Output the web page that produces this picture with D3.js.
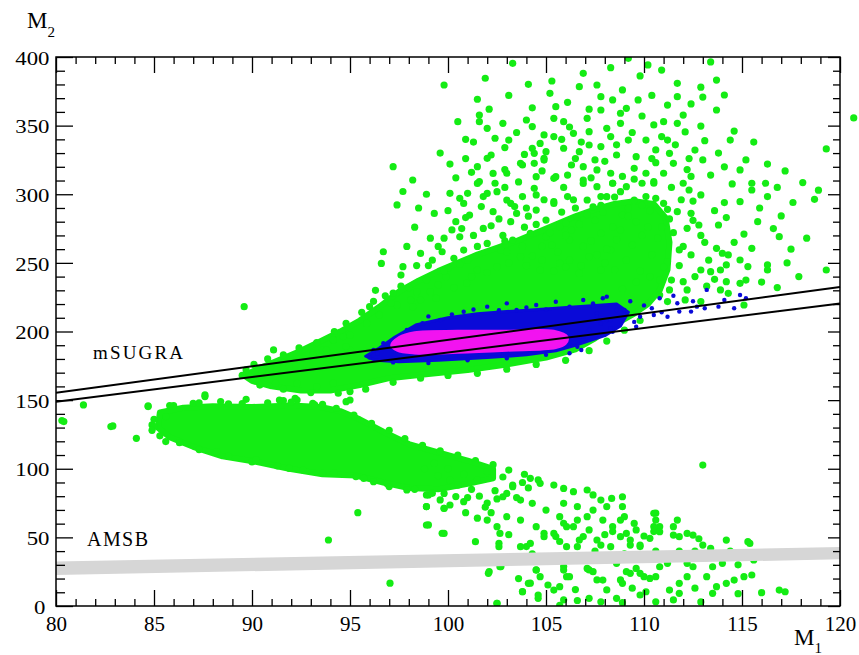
<!DOCTYPE html>
<html>
<head>
<meta charset="utf-8">
<script src="https://cdn.jsdelivr.net/npm/d3@7"></script>
<style>
    body { margin: 0; background: #fff; }
    svg { display: block; }
    text { font-family: "Liberation Serif", "Times New Roman", Times, serif; fill: #000; }
</style>
</head>
<body>
<svg id="chart"></svg>
<script>

// axis ranges and ticks
const xDomain = [80, 120]
const yDomain = [0, 400]
const xMajorTicks = [80, 85, 90, 95, 100, 105, 110, 115, 120]
const yMajorTicks = [0, 50, 100, 150, 200, 250, 300, 350, 400]

// model lines (M1, M2)
const msugraUpper = [[80, 155.4], [120, 232.4]]
const msugraLower = [[80, 148.9], [120, 220.4]]
const amsbTop = [[80, 32.5], [120, 43]]
const amsbBottom = [[80, 22.5], [120, 34]]

// dense parts of the scan, read as outlines
const upperCore = [[89.6,168],[90.5,174],[91.5,180],[92.5,186],[93.5,193],[94.5,200],[95.5,208],[96.5,218],[97.5,229],[98.5,237],[99.5,244],[100.5,250],[101.5,256],[102.5,261],[103.5,266],[104.5,272],[105.5,278],[106.5,284],[107.5,289],[108.5,293],[109.5,295],[110.5,293],[111.1,283],[111.3,265],[111.2,245],[110.8,230],[110.2,220],[109.5,213],[108.5,205],[107.5,195],[106.5,187],[105,181],[103,176],[101,172],[99,169],[97,166],[95.5,161],[94,157],[92.5,157],[91,160],[90,164]]
const lowerCore = [[85.3,141],[86.5,144.5],[88,145.5],[90,145],[92,146],[93.5,145],[94.5,142],[95.5,136],[96.7,127],[98,118],[99.5,112],[101,106],[102.3,100],[102.3,93],[101,89],[99.5,85],[98,86],[96.7,90],[95.3,95],[93.6,96],[91.9,100],[90.2,105],[88.5,109],[87,116],[85.8,123],[85.2,130]]
const blueCore = [[95.8,182],[96.5,188],[97.3,196],[98.4,205],[100,210],[101.5,213],[103.5,215],[105.5,217],[107.5,219],[108.6,220],[109.2,214],[108.8,204],[108,197],[106.5,190],[105.5,186],[104,183],[102,181],[99.5,179],[97.5,178],[96.3,179]]
const magentaCore = [[97.1,190],[97.5,196],[98.3,199.5],[100.5,200.5],[103,200.5],[105.4,200.5],[106.1,196],[106,191],[105.5,188],[103,186],[100.5,184.5],[98.3,184],[97.4,186]]

// single points, upper branch
const greenUpper = [
    [103.3,395.4],[99.8,379.6],[101.9,384.5],[104.1,380.1],[105.3,382.5],[106.9,388.1],[108.3,392.2],[109.2,399],[109.8,386.2],[110.2,394.2],[110.9,390.5],[111.7,380.8],
    [101.5,369.2],[105.2,373.5],[106.7,378.4],[107.6,379.6],[107.8,371.1],[108.4,368.7],[109.7,368.7],[111.2,365],[111.7,371.1],
    [100.5,352.9],[101.6,357.7],[101.6,352.9],[102,348],[102.8,351.7],[104,354.1],[104.3,349.3],[105.4,355.3],[105.9,352.9],[105.5,363.8],[106.4,344.4],[107.1,355.3],[107.2,345.6],[107.8,361.4],[108.8,359],[109.1,362.6],[108.8,351.7],[109.2,339.5],[108.3,342],[110.5,350.5],[111,352.9],[110.1,339.5],[111.2,339.5],[111.7,351.7],
    [102.4,340.8],[103.1,339.5],[104.9,343.2],[105.4,342],[104.3,333.5],[105,331],[105.9,333.5],[106.7,331],[107.2,335.9],[107.8,334.7],[108.6,328.6],[109.6,327.4],[110.6,332.3],[111.3,329.8],
    [97.2,320.1],[98.2,310.4],[97.4,292.2],[101.5,320.1],[102.2,328.6],[102,326.2],[103.8,321.3],[104.4,322.5],[104.9,326.2],[106.3,321.3],[106.9,320.1],[107.6,317.7],[108.3,315.3],[109.5,318.9],[110.1,315.3],[111,315.3],[111.5,322.5],
    [101.6,309.2],[102.4,308],[103,315.3],[104.5,312.8],[105.4,311.6],[106.1,314],[106.9,310.4],[107.6,305.5],[108.4,308],[109.1,305.5],[109.9,308],[110.5,309.2],
    [100.1,300.7],[100.6,297],[101,300.7],[101.8,298.3],[102.5,301.9],[103.2,293.4],[103.8,298.3],[104.5,299.5],[105.4,294.6],[106.1,298.3],[107.1,295.8],[107.8,298.3],[108.8,301.9],[109.5,295.8],[110.1,298.3],[111,293.4],[111.7,287.3],
    [96.7,258.1],[96.6,249.6],[97.7,247.2],[97.6,241.1],[98.6,256.9],[99.7,258.1],[100.3,253.3],[98.9,237.5],[99.1,229],[98.1,222.9],[97.4,219.3],[97.1,220.5],[96,218.1],[98.6,222.9],[96.5,212],[95.85,205.9],[95,197.4],[94.15,193.8],[93.6,186.5],[93.1,184],[95,186.5],
    [100.8,293.3],[101.1,284.8],[100.4,280],[100.6,269],[100.8,259.3],[101.5,307.9],[102.3,315.2],[102,300.6],[102.3,287.3],[103,295.8],[103.2,280],[101.8,275.1],[102,264.2],[102.7,259.3],[103.3,266.6],[103.7,254.5],[104.2,271.5],[104.5,288.5],[104.4,304.3],[103.7,322.5],[104.4,329.8],[104.9,324.9],[105.5,312.8],[105.4,293.3],[105,281.2],[105.7,276.3],[105,269.1],[106.2,266.6],[106.6,283.6],[106.9,307.9],[108.1,298.2],[107.4,290.9],[107.8,271.5],[108.4,276.3],[108.3,259.3],[107.2,254.5],[105.7,249.6],[104.7,244.8],[106.7,242.3],[107.8,244.8],[102.5,247.2],[101.5,244.8],[100.95,235.1],[99.9,239.9],[99.4,224.1],[98.2,218.1],[89.6,218.1],
    [101.5,262],[102.8,270],[103.9,276],[104.8,262],[105.6,258],[106.3,274],[106.9,262],[107.5,281],[108.9,285],[109.6,280],[110.3,288],[110.9,276],[109.2,290],[108.6,267],[103.5,286],[102.9,305],[104,290],[106.5,290],[107.9,287],[100.2,274],[99.5,262],[99,248],[98,232],[97.2,228],[96.3,230],[100,246],[101,252],[103,258],[104.3,255],[105.3,263],[106,279],[109.9,270],[111.3,282],[108,250],[106,247],
    [108.4,308],[110.5,308],[112,308],[112.9,299.5],[114.5,307.5],[115.5,308],[116.2,308],[118.1,308.5],[114.1,293.9],[114.9,294.6],[115.5,303.1],[116.3,298.3],[118.7,296.3],[117,284.2],[112.4,286.1],[113.8,277.6],[112.2,275.2],[112.8,277.6],[116.9,269.1],[115.5,260.6],[113.7,260.6],[112.4,255.8],[111.8,259.4],[114.3,255.8],[114.9,252.1],[114.2,248.5],[115.3,247.3],[116.3,248.5],[116.3,244.8],[119.3,244.8],[112.9,244.8],[113.4,243.6],[113.9,244.8],[111.2,250.9],[111.4,237.5],[112,236.3],[112.2,230.3],[111.3,230.3],[110.8,237.5],[114.2,236.3],[114.9,235.1],[115.2,237.5],[113.9,230.3],[114.3,227.8],[115.1,219.3],[112.9,221.8],[112.1,223],[111.2,221.8],[110.8,226.6],
    [113.4,396.4],[113.7,383.2],[113,370.8],[112.4,365.8],[113.7,361.4],[114.1,372.3],[112.9,349.7],[112.1,345.4],[114.4,339.5],[115.2,325],[112,357.7],[112.6,332.2],[113.4,314],[112.3,303.1],[114.9,317.7],[120.7,355.6],[119.3,333],[118.9,303],
    [91.1,186.6],[91.25,172],[91.6,176.9],[91.9,174.4],[92.6,180.5],[93.1,182.9],[93.8,186.6],[94.15,193.9],[94.65,196.3],[94.8,189],[94.8,184.1],[92.3,162.3],[93.3,159.9],[94.15,162.3],[91.2,162.3],[95,156.2]
]

// more single points along the edge of the upper core
const greenMid = [
    [100.4,312],[101.2,316],[102.9,318],[103.6,309],[104.8,317],[105.9,305],[106.5,326],[107.3,312],[108,324],[108.9,313],[109.5,311],[110.6,323],[111.4,305],[112.2,318],[113,325],[112.5,295],[113.6,288],[112.9,270],[113.3,252],[114.6,265],[115.8,280],[117.5,260],[116.8,232],[117.9,240],
    [100,288],[100.9,283],[101.7,291],[102.6,282],[103.4,291],[104.1,284],[104.9,296],[105.8,287],[106.4,296],[107.1,285],[107.8,292],[108.5,298],[109.2,284],[109.9,292],[110.6,297],[111.2,289],[111.9,296],[112.5,281],
    [99.8,268],[100.7,275],[101.3,270],[102.2,277],[102.9,266],[103.8,262],[104.5,278],[105.2,272],[106,270],[106.7,278],[107.3,266],[108.1,260],[108.8,274],[109.4,263],[110.2,276],[110.7,268],[111.5,272],[112,262],[111.8,248],[112.6,240],[113.2,233],
    [98.4,248],[99.2,252],[99.8,244],[100.6,249],[101.2,240],[102,243],[103.1,250],[104,248],[104.8,252],[105.4,244],[106.2,252],[106.8,248],[107.6,256],[108.5,245],[109.1,252],[109.8,244],[110.4,256],[111,247],[110.3,240],[109.6,236],[108.9,231],
    [96.8,226],[97.6,233],[98.4,229],[99.5,234],[100.3,232],[96.2,222],[95.6,214],[94.8,206],[94.2,200],[93.3,192],[92.4,188],[91.6,183],[90.8,180],[90.1,176],[89.7,172],[89.5,168],[90.5,171],
    [90.4,161],[91.6,158],[93,155.5],[94.4,155],[95.8,158],[97.2,163],[98.6,166],[100,168],[101.5,169.5],[103,172.5],[104.5,176],[106,179],[107.2,186],[108.1,193],[109,201],[109.8,208]
]

// sparse points above and right of the upper branch
const greenTop = [
    [100.9,326],[101.3,338],[102.9,334],[103.5,345],[103.9,329],[104.7,337],[105.8,340],[106.2,349],[106.8,338],[107.5,325],[108.1,348],[108.6,336],[109.4,345],[109.9,357],[110.4,326],[110.9,342],[111.6,336],[112.3,326],[113.1,339],[113.8,330],[114.6,346],[115.6,338],[116.3,322],[117.2,317],
    [115.9,290],[117.6,294],[116.6,275],[114.2,283],[115.1,271],[113.1,265],[114,257],[113.6,238],[116,236],[117.3,250],[118.3,268],[112.4,313],[114.1,320],[116.8,305],
    [104.3,363],[106.1,367],[107.2,362],[108.9,376],[110.4,372],[112.9,378],[103.1,372],[102.1,362],[100.9,340],[99.6,330],[100.1,322],[98.9,300],[99.3,286],[98.3,276],[97.9,262],[99.1,268],[98.5,290],[97.7,302]
]

// single points, lower branch
const greenLower = [
    [80.3,135.1],[81.4,146.5],[82.9,131.2],[84.1,122.2],[84.7,145.8],[84.9,131.9],[85.6,119.8],[85.6,138],[87,147.7],[87.6,153.8],[88.8,147.2],[89.7,150.6],[91.6,149.6],[92.2,151.3],[93.1,147.7],[93.6,147],[94.8,148.9],[95,150.1],[91.4,150.1],[92.3,150.1],[87.6,152.6],[84.7,145.3],[80.4,134.4],[82.8,130.7],[85,130.7],
    [86,146],[87.3,148],[88.4,149],[89.5,147.5],[90.8,148],[92,148.5],[93.2,146.5],[94.3,144],[95.2,139],[96.1,133],[97,128],[97.8,122],[98.7,117],[99.6,113],[100.5,110],[101.4,106],[102.3,103],[103.1,99],[103.9,96],[104.6,92],
    [86.3,119],[87.3,114],[88.8,109],[90,105],[91.3,102],[92.6,99],[94.2,97],[95.7,93],[96.9,89],[98.3,85],[99.8,82],[101,79],[102,75],[85,136],[84.9,128],[85.3,124],[85.8,146],
    [88.2,112.5],[90.2,106.4],[91.9,100.3],[93.6,96.7],[95.3,94.3],[96.2,90.6],[97,87],[97.9,84.6],[99,80.9],[99.6,77.3],[100.1,73.6],[100.1,91.8],[100.4,79.7],
    [100,100],[100.8,96],[101.5,92],[102,98],[102.8,94],[103.3,88],[102.4,84],[101.6,80],[100.8,76],[101.9,72],[102.5,78],[103,82],[103.8,90],[104.1,86],[99.5,95],[100.5,88],[101.2,85],[99.3,104],[98.8,100],[103.5,79],[102.2,68],[101.5,64],[100.9,68],
    [95.4,68],[93.9,48.1],[98.9,72.4],[99,59.1],[99.7,53],[99.8,71.2],[98.9,80.9],[99.2,82.1],[97.04,16.6],[101.4,46.9],[102.1,25],[102.6,45.7],[102.7,28.7],[104.5,26.3],[104.2,16.6],[103.8,10.5],[104.6,5.6],[105.7,0.5],[102.5,2],[104,43.3],[104.9,53],[105.5,50.6],[105.9,60.3],[106.4,57.8],[106.9,50.6],[107.6,48.1],[108.4,54.2],[109.3,48.1],[109.8,43.3],[105.9,28.7],[106.2,21.4],[107.2,26.3],[107.6,19],[108.1,11.7],[108.8,19],[109.3,23.8],[110,21.4],[110.6,67.6],[110.5,54.2],
    [104.2,93],[104.7,89.4],[105.4,88.1],[105.9,85.7],[106.4,83.3],[107.1,84.5],[107.4,80.9],[107.8,77.2],[108.35,78.4],[108.9,72.4],[109,65.1],[109.6,55.4],[110.5,67.5],[110.6,55.4],[110.8,57.8],[111.7,62.6],[112.2,52.9],[112.5,51.7],[113,102.7],[111.8,50.5],[111.5,51.7],[113,44.4],[113.4,42],[115.4,45.6],[115.6,33.5],[114,31.1],[113.5,28.6],[113.2,21.4],[113.7,14.1],[114.2,16.5],[114.6,18.9],[115.1,21.4],[115.5,22.6],[116,9.7],[116.9,11.6],[117.2,10.4],[113.5,9.2],[112.2,21.4],[111.8,16.5],[111.3,11.6],[111.8,9.2],[110.6,21.4],[110.3,20.1],[110.8,28.6],[111.2,31.1],[109.8,23.8],[109.1,25],[108.9,16.5],[107.9,18.9],[107.4,25],[107.1,27.4],[105.9,26.2],[106.05,21.4],[105.7,14.1],[105.4,11.6],[104.5,26.2],[104.7,21.4],[105.1,15.3],[104.1,16.5],[103.8,10.4],[104.6,8],[105.9,4.4],[107.8,3.1],[108.9,2.4],[110.1,10.4],[111.5,4.4],[110.6,3.1],[109.8,8],[108.6,5.6],[107.2,5.6],[102.5,1.9],[102.06,23.8],[102.65,28.6],[102.6,43.2],[99.8,52.9],[98.9,59],[98.9,72.4],[99.8,71.1],[102.65,52.9],[103.7,43.2],[104.2,45.6],[104.9,50.5],[105.4,52.9],[106.05,43.2],[106.6,43.2],[106.7,48.1],[107.2,55.4],[107.8,44.4],[108.3,43.2],[108.8,50.5],[109.3,44.4],[109.8,44.4],[110.3,49.3],[110.8,54.1],[111.5,57.8],[112.2,31.1],[112.5,28.6],[113.5,35.9],[115.3,46.9],[108.6,31.1],[109.6,27.4],[110.1,34.7],[111.3,35.9],
    [103.7,77.2],[104.3,74.8],[105,69.9],[105.7,65.1],[106.05,57.8],[106.6,62.6],[107.1,65.1],[107.9,62.6],[108.4,57.8],[109.1,52.9],[109.5,60.2],[103.7,62.6],[104.5,57.8],[103,65.1],[102.5,57.8],[102,62.6],[102.8,79.6],[103.3,86.9],[105.9,74.8],[106.6,72.4],[107.4,69.9],[108.1,72.4],[108.8,62.6],[108.9,79.6],[110.5,57.8],[110.6,62.6],
    [103.2,35],[104.3,38],[105.2,33],[106.8,36],[107.5,40],[108.2,36],[109,38],[110.6,40],[111.8,40],[112.6,40],[114.4,40],[103.1,52],[105.7,47],[108,52],[110,51],[112.8,49],[114.2,48],[113.9,36],[114.8,30],[103.6,20],[106.5,12],[109.4,13],[112.6,13],[114.8,9],[112.9,3],[106.6,4]
]

// blue points outside the blue core
const blueScatter = [
    [100.8,214.4],[102,218.1],[103,220.5],[103.5,215.7],[104.5,219.3],[105.5,221.7],[106.2,218.1],[106.9,223],[107.4,220.5],[107.9,224.2],[107.6,213.2],[108.1,208.4],[108.3,202.3],[107.2,201.1],[106.7,196.2],[106.6,188.9],[106.2,184.1],[99.6,208.4],[98.7,206],[97.9,201.1],[96.7,191.4],[96.2,186.5],[107.4,218.1],[108.1,225.4],[108.6,215.7],[107.8,205.9],[106.9,196.2],[108.4,199.8],[107.6,210.8],
    [113.2,230.3],[115.2,224.2],[114.9,226.6],[114.6,216.9],[114.1,223],[113.8,218.1],[113.1,216.9],[112.7,218.1],[112.4,214.5],[111.8,214.5],[111.7,220.6],[111.2,210.8],[110.8,224.2],[110.4,216.9],[109.8,210.8],[109,215.7],[108.3,208.4],[109.6,203.5],
    [110,219],[110.9,214],[109.3,222],[111.5,226],[112.5,222],[109.5,207],[110.5,212],
    [99,211],[100.2,212.5],[101.3,216],[102.6,215.5],[104,217.5],[105,216],[96.4,184],[96,181],[97.2,177.5],[99,177],[101,179],[103,180.5],[105,183],[106.8,186.5]
]

const green = "#14ec14"
const blue = "#0a0ad8"
const magenta = "#f213f0"

const w = 859
const h = 655
const plotLeft = 56
const plotRight = 840
const plotTop = 57
const plotBottom = 606

const svg = d3.select("#chart")
    .attr("width", w)
    .attr("height", h)

//Create scale
const xScale = d3.scaleLinear().domain(xDomain).range([plotLeft, plotRight])
const yScale = d3.scaleLinear().domain(yDomain).range([plotBottom, plotTop])

svg.append("clipPath")
    .attr("id", "plot-clip")
    .append("rect")
    .attr("x", plotLeft)
    .attr("y", plotTop)
    .attr("width", plotRight - plotLeft + 20)
    .attr("height", plotBottom - plotTop)

const plot = svg.append("g").attr("clip-path", "url(#plot-clip)")

const area = d3.line()
    .x(d => xScale(d[0]))
    .y(d => yScale(d[1]))
    .curve(d3.curveLinearClosed)

//Green cloud
plot.selectAll(".core")
    .data([upperCore, lowerCore])
    .enter()
    .append("path")
    .attr("d", area)
    .attr("fill", green)
    .attr("stroke", green)
    .attr("stroke-width", 6)
    .attr("stroke-linejoin", "round")

plot.selectAll(".green")
    .data(greenUpper.concat(greenMid, greenTop, greenLower))
    .enter()
    .append("circle")
    .attr("cx", d => xScale(d[0]))
    .attr("cy", d => yScale(d[1]))
    .attr("r", 3.6)
    .attr("fill", green)

//Blue and magenta
plot.append("path")
    .attr("d", area(blueCore))
    .attr("fill", blue)
    .attr("stroke", blue)
    .attr("stroke-width", 3)
    .attr("stroke-linejoin", "round")

plot.selectAll(".blue")
    .data(blueScatter)
    .enter()
    .append("circle")
    .attr("cx", d => xScale(d[0]))
    .attr("cy", d => yScale(d[1]))
    .attr("r", 2.2)
    .attr("fill", blue)

plot.append("path")
    .attr("d", d3.line().x(d => xScale(d[0])).y(d => yScale(d[1])).curve(d3.curveCatmullRomClosed)(magentaCore))
    .attr("fill", magenta)
    .attr("stroke", magenta)
    .attr("stroke-width", 2)

//AMSB band
const line = d3.line()
    .x(d => xScale(d[0]))
    .y(d => yScale(d[1]))

plot.append("path")
    .attr("d", line(amsbTop.concat(amsbBottom.slice().reverse())) + "Z")
    .attr("fill", "#d6d6d6")

//mSUGRA lines
plot.selectAll(".msugra")
    .data([msugraUpper, msugraLower])
    .enter()
    .append("path")
    .attr("d", line)
    .attr("fill", "none")
    .attr("stroke", "#000")
    .attr("stroke-width", 2)

//Create axis
const xMinor = d3.range(80, 121, 1).filter(v => v % 5 !== 0)
const yMinor = d3.range(0, 401, 10).filter(v => v % 50 !== 0)

function drawAxis(axis, pos, major, minor, minorLen, majorLen, labels){
    const g = svg.append("g").attr("transform", pos)
    g.call(axis.tickValues(minor).tickSize(-minorLen).tickFormat(""))
    g.select(".domain").remove()
    const g3 = svg.append("g").attr("transform", pos)
    g3.call(axis.tickValues(major).tickSize(-majorLen).tickFormat(labels ? d => d : ""))
    g3.select(".domain").remove()
    g.selectAll("line").attr("stroke-width", 1.3)
    g3.selectAll("line").attr("stroke-width", 1.3)
    return g3
}

const xAxis = drawAxis(d3.axisBottom(xScale).tickPadding(10), `translate(0, ${plotBottom})`, xMajorTicks, xMinor, 7, 16, true)
xAxis.selectAll("text")
    .attr("font-size", 21)

drawAxis(d3.axisTop(xScale), `translate(0, ${plotTop})`, xMajorTicks, xMinor, 7, 16, false)

const yAxis = drawAxis(d3.axisLeft(yScale).tickPadding(5), `translate(${plotLeft}, 0)`, yMajorTicks, yMinor, 9, 17, true)
yAxis.selectAll("text")
    .attr("font-size", 19)
    .attr("dy", "0.38em")
    .attr("x", d => d === 0 ? -8.8 : -5.5)
    .attr("transform", "scale(1.2,1)")

drawAxis(d3.axisRight(yScale), `translate(${plotRight}, 0)`, yMajorTicks, yMinor, 7, 12, false)

svg.selectAll(".tick text").attr("fill", "#000").attr("font-family", null)
svg.selectAll("g").attr("font-family", null)

//Frame
svg.append("rect")
    .attr("x", plotLeft)
    .attr("y", plotTop)
    .attr("width", plotRight - plotLeft)
    .attr("height", plotBottom - plotTop)
    .attr("fill", "none")
    .attr("stroke", "#000")
    .attr("stroke-width", 1.5)

//Titles and labels
const yTitle = svg.append("text")
    .attr("x", 27)
    .attr("y", 28)
    .attr("font-size", 23)
yTitle.append("tspan").text("M")
yTitle.append("tspan").attr("font-size", 15).attr("dy", 9).text("2")

const xTitle = svg.append("text")
    .attr("x", 794)
    .attr("y", 645)
    .attr("font-size", 23)
xTitle.append("tspan").text("M")
xTitle.append("tspan").attr("font-size", 15).attr("dy", 8).text("1")

svg.append("text")
    .attr("x", 93)
    .attr("y", 359)
    .attr("font-size", 19)
    .attr("textLength", 90)
    .text("mSUGRA")

svg.append("text")
    .attr("x", 87)
    .attr("y", 546)
    .attr("font-size", 20)
    .attr("textLength", 61)
    .text("AMSB")

</script>
</body>
</html>
